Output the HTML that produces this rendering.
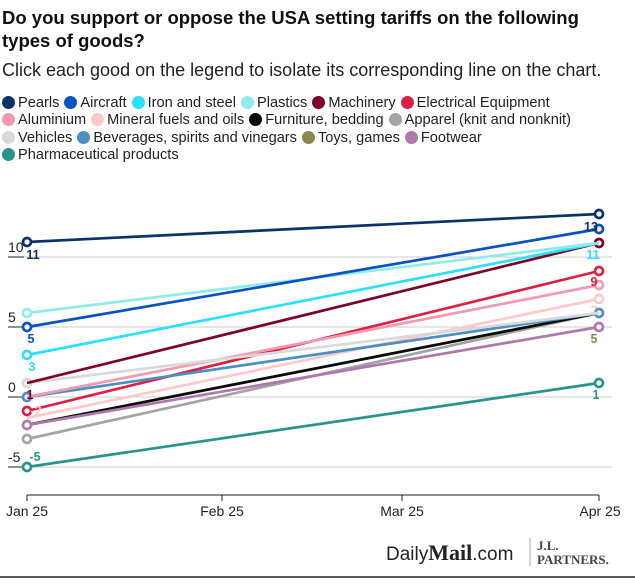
<!DOCTYPE html>
<html><head><meta charset="utf-8"><style>
body{margin:0;width:635px;height:583px;background:#fff;font-family:"Liberation Sans",sans-serif;overflow:hidden;position:relative}
h1{position:absolute;left:2px;top:6px;margin:0;font-size:18.5px;line-height:23px;font-weight:bold;color:#111;width:600px}
.sub{position:absolute;left:2px;top:60px;font-size:18px;color:#222}
.leg{position:absolute;left:2px;top:95px;width:633px;font-size:14.6px;line-height:17.3px;color:#222}
.leg span{display:inline-block;margin-right:5px;white-space:nowrap}
.leg i{display:inline-block;width:13px;height:13px;border-radius:50%;vertical-align:-2px;margin-right:3px}
</style></head><body>
<h1>Do you support or oppose the USA setting tariffs on the following types of goods?</h1>
<div class="sub">Click each good on the legend to isolate its corresponding line on the chart.</div>
<div class="leg">
<span><i style="background:#0b3269"></i>Pearls</span><span><i style="background:#0a52c2"></i>Aircraft</span><span><i style="background:#29e0ff"></i>Iron and steel</span><span><i style="background:#90ecea"></i>Plastics</span><span><i style="background:#7d0228"></i>Machinery</span><span><i style="background:#dc1f44"></i>Electrical Equipment</span><br>
<span><i style="background:#f29aaf"></i>Aluminium</span><span><i style="background:#ffc9c9"></i>Mineral fuels and oils</span><span><i style="background:#0b0b0b"></i>Furniture, bedding</span><span><i style="background:#a3a3a3"></i>Apparel (knit and nonknit)</span><br>
<span><i style="background:#d9d9d9"></i>Vehicles</span><span><i style="background:#4a90c0"></i>Beverages, spirits and vinegars</span><span><i style="background:#8a8a4f"></i>Toys, games</span><span><i style="background:#ae78ad"></i>Footwear</span><br>
<span><i style="background:#27958c"></i>Pharmaceutical products</span>
</div>
<svg width="635" height="583" style="position:absolute;left:0;top:0" font-family="Liberation Sans, sans-serif">
<g stroke="#ccc" stroke-width="1">
<line x1="8" y1="257" x2="612" y2="257"/><line x1="8" y1="327" x2="612" y2="327"/><line x1="8" y1="397" x2="612" y2="397"/><line x1="8" y1="467" x2="612" y2="467"/>
</g>
<g stroke="#222" stroke-width="1"><line x1="8" y1="257" x2="24" y2="257"/><line x1="8" y1="327" x2="24" y2="327"/><line x1="8" y1="397" x2="24" y2="397"/><line x1="8" y1="467" x2="24" y2="467"/>
<line x1="27" y1="495" x2="599" y2="495"/><line x1="27" y1="495" x2="27" y2="501"/><line x1="222" y1="495" x2="222" y2="501"/><line x1="402" y1="495" x2="402" y2="501"/><line x1="599" y1="495" x2="599" y2="501"/>
<line x1="0" y1="577" x2="635" y2="577" stroke-width="1.5"/></g>
<g font-size="14" fill="#222"><text x="8" y="252">10</text><text x="8" y="322">5</text><text x="8" y="392">0</text><text x="8" y="462">-5</text></g>
<g font-size="14" fill="#222" text-anchor="middle"><text x="27" y="516">Jan 25</text><text x="222" y="516">Feb 25</text><text x="402" y="516">Mar 25</text><text x="600" y="516">Apr 25</text></g>
<g stroke-width="2.7" fill="#fff">
<g stroke="#27958c"><line x1="27" y1="467" x2="599" y2="383"/><circle cx="27" cy="467" r="4"/><circle cx="599" cy="383" r="4"/></g>
<g stroke="#a3a3a3"><line x1="27" y1="439" x2="599" y2="313"/><circle cx="27" cy="439" r="4"/></g>
<g stroke="#8a8a4f"><line x1="27" y1="425" x2="599" y2="313"/></g>
<g stroke="#0b0b0b"><line x1="27" y1="425" x2="599" y2="313"/></g>
<g stroke="#ae78ad"><line x1="27" y1="425" x2="599" y2="327"/><circle cx="27" cy="425" r="4"/><circle cx="599" cy="327" r="4"/></g>
<g stroke="#ffc9c9"><line x1="27" y1="418" x2="599" y2="299"/><circle cx="599" cy="299" r="4"/></g>
<g stroke="#dc1f44"><line x1="27" y1="411" x2="599" y2="271"/><circle cx="27" cy="411" r="4"/><circle cx="599" cy="271" r="4"/></g>
<g stroke="#4a90c0"><line x1="27" y1="397" x2="599" y2="313"/><circle cx="27" cy="397" r="4"/><circle cx="599" cy="313" r="4"/></g>
<g stroke="#f29aaf"><line x1="27" y1="397" x2="599" y2="285"/><circle cx="599" cy="285" r="4"/></g>
<g stroke="#d9d9d9"><line x1="27" y1="383" x2="599" y2="313"/><circle cx="27" cy="383" r="4"/></g>
<g stroke="#7d0228"><line x1="27" y1="383" x2="599" y2="243"/><circle cx="599" cy="243" r="4"/></g>
<g stroke="#29e0ff"><line x1="27" y1="355" x2="599" y2="243"/><circle cx="27" cy="355" r="4"/></g>
<g stroke="#90ecea"><line x1="27" y1="313" x2="599" y2="243"/><circle cx="27" cy="313" r="4"/></g>
<g stroke="#0a52c2"><line x1="27" y1="327" x2="599" y2="229"/><circle cx="27" cy="327" r="4"/><circle cx="599" cy="229" r="4"/></g>
<g stroke="#0b3269"><line x1="27" y1="242" x2="599" y2="214"/><circle cx="27" cy="242" r="4"/><circle cx="599" cy="214" r="4"/></g>
</g>
<g font-size="12.5" font-weight="bold" text-anchor="middle">
<text x="33" y="259" fill="#0b3269">11</text><text x="31" y="343" fill="#0a52c2">5</text><text x="32" y="371" fill="#29e0ff">3</text><text x="30" y="399" fill="#7d0228">1</text><text x="36" y="415" fill="#ffc9c9">-2</text><text x="35" y="461" fill="#27958c">-5</text>
<text x="591" y="231" fill="#0b3269">13</text><text x="593" y="259" fill="#29e0ff">11</text><text x="594" y="286" fill="#dc1f44">9</text><text x="594" y="315" fill="#ffc9c9">7</text><text x="594" y="343" fill="#8a8a4f">5</text><text x="596" y="399" fill="#27958c">1</text>
</g>
<text x="386" y="560" font-size="19" fill="#222">Daily<tspan font-family="Liberation Serif, serif" font-weight="bold" font-size="22">Mail</tspan>.com</text>
<line x1="530" y1="538" x2="530" y2="566" stroke="#aaa"/>
<text x="537" y="550" font-family="Liberation Serif, serif" font-weight="bold" font-size="13" fill="#444">J.L.</text>
<text x="537" y="564" font-family="Liberation Serif, serif" font-weight="bold" font-size="13" fill="#444">PARTNERS<tspan fill="#c00">.</tspan></text>
</svg>
</body></html>
